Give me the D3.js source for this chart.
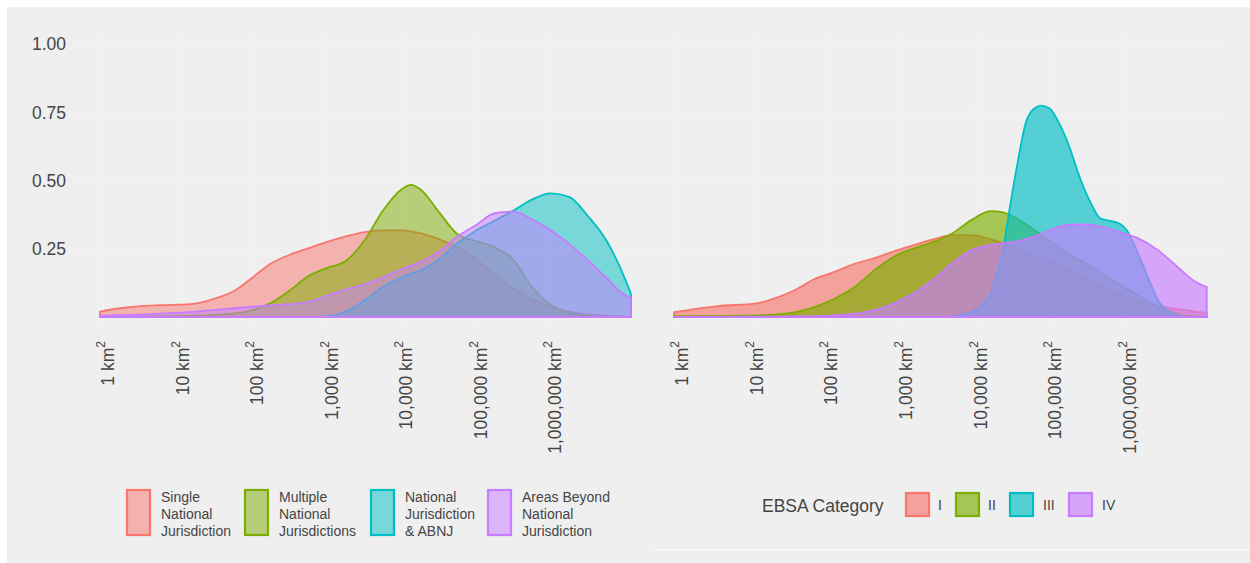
<!DOCTYPE html>
<html>
<head>
<meta charset="utf-8">
<script src="https://cdn.jsdelivr.net/npm/d3@7"></script>
<style>
  html, body { margin: 0; padding: 0; background: #ffffff; }
  svg { display: block; font-family: "Liberation Sans", Arial, sans-serif; }
</style>
</head>
<body>
<svg id="chart" width="1250" height="563"></svg>
<script>
// ---------------- DATA ----------------
// x values are log10(area in km^2)
const tickLogs = [0, 1, 2, 3, 4, 5, 6];
const tickLabels = ["1", "10", "100", "1,000", "10,000", "100,000", "1,000,000"];
const yTicks = [0.25, 0.5, 0.75, 1.0];
const yTickLabels = ["0.25", "0.50", "0.75", "1.00"];

// Left panel: jurisdiction groups, on a shared grid
const leftLogArea = [-0.05, 0.25, 0.5, 0.75, 1, 1.25, 1.5, 1.75, 2, 2.25, 2.5, 2.75, 3, 3.25, 3.5, 3.75, 4, 4.125, 4.25, 4.5, 4.75, 5, 5.25, 5.5, 5.75, 6, 6.25, 6.5, 6.75, 7, 7.08];
const singleNational   = [0.02, 0.033, 0.04, 0.043, 0.045, 0.05, 0.068, 0.095, 0.145, 0.197, 0.228, 0.252, 0.275, 0.295, 0.311, 0.317, 0.317, 0.314, 0.307, 0.285, 0.255, 0.212, 0.155, 0.105, 0.065, 0.037, 0.02, 0.01, 0.005, 0.001, 0];
const multipleNational = [0, 0, 0.001, 0.002, 0.003, 0.005, 0.008, 0.013, 0.025, 0.052, 0.098, 0.15, 0.18, 0.205, 0.28, 0.39, 0.468, 0.484, 0.468, 0.385, 0.303, 0.278, 0.255, 0.21, 0.11, 0.045, 0.015, 0.004, 0, 0, 0];
const nationalABNJ     = [0, 0, 0, 0, 0, 0, 0, 0, 0, 0, 0, 0, 0.002, 0.02, 0.06, 0.11, 0.145, 0.158, 0.17, 0.21, 0.27, 0.317, 0.353, 0.39, 0.43, 0.453, 0.44, 0.37, 0.28, 0.14, 0.085];
const beyondNational   = [0.005, 0.007, 0.009, 0.012, 0.016, 0.02, 0.026, 0.032, 0.038, 0.043, 0.047, 0.055, 0.078, 0.1, 0.12, 0.145, 0.175, 0.188, 0.2, 0.24, 0.295, 0.337, 0.38, 0.386, 0.358, 0.318, 0.268, 0.208, 0.144, 0.08, 0.073];

// Right panel: EBSA categories
const catILogArea = [-0.05, 0.54, 1.06, 1.32, 1.58, 1.84, 2.1, 2.37, 2.63, 2.89, 3.15, 3.41, 3.67, 3.93, 4.19, 4.45, 4.72, 5.24, 5.76, 6.28, 6.8, 7.09];
const catIDensity = [0.018, 0.04, 0.05, 0.07, 0.1, 0.14, 0.165, 0.195, 0.215, 0.24, 0.262, 0.283, 0.3, 0.3, 0.285, 0.26, 0.23, 0.17, 0.1, 0.05, 0.025, 0.015];
const catIILogArea = [-0.05, 1.06, 1.58, 1.84, 2.1, 2.37, 2.63, 2.89, 3.15, 3.41, 3.67, 3.93, 4.19, 4.35, 4.51, 4.72, 4.98, 5.24, 5.5, 5.76, 6.02, 6.28, 6.54, 6.8, 7.09];
const catIIDensity = [0.003, 0.006, 0.018, 0.037, 0.067, 0.11, 0.17, 0.22, 0.25, 0.274, 0.305, 0.354, 0.388, 0.384, 0.366, 0.33, 0.28, 0.232, 0.19, 0.146, 0.104, 0.06, 0.024, 0.006, 0];
const catIIILogArea = [-0.05, 3.57, 3.93, 4.19, 4.3, 4.38, 4.45, 4.56, 4.66, 4.77, 4.87, 4.98, 5.13, 5.24, 5.39, 5.55, 5.66, 5.76, 5.89, 6.02, 6.13, 6.28, 6.44, 6.6, 6.8, 7.09];
const catIIIDensity = [0, 0, 0.018, 0.085, 0.183, 0.28, 0.40, 0.573, 0.707, 0.762, 0.774, 0.765, 0.70, 0.63, 0.51, 0.41, 0.362, 0.354, 0.346, 0.317, 0.256, 0.16, 0.06, 0.018, 0, 0];
const catIVLogArea = [-0.05, 1.58, 2.1, 2.63, 2.89, 3.15, 3.41, 3.67, 3.93, 4.09, 4.3, 4.56, 4.82, 5.03, 5.24, 5.45, 5.66, 5.92, 6.18, 6.44, 6.7, 6.91, 7.09];
const catIVDensity = [0, 0.002, 0.006, 0.024, 0.049, 0.085, 0.134, 0.195, 0.244, 0.259, 0.268, 0.278, 0.299, 0.323, 0.338, 0.339, 0.332, 0.311, 0.287, 0.244, 0.183, 0.134, 0.11];

const leftNames = ["Single National Jurisdiction", "Multiple National Jurisdictions", "National Jurisdiction & ABNJ", "Areas Beyond National Jurisdiction"];
const leftLegendLines = [["Single", "National", "Jurisdiction"], ["Multiple", "National", "Jurisdictions"], ["National", "Jurisdiction", "& ABNJ"], ["Areas Beyond", "National", "Jurisdiction"]];
const rightNames = ["I", "II", "III", "IV"];
const palette = ["#F8766D", "#7CAE00", "#00BFC4", "#C77CFF"];

// ---------------- DRAW ----------------
const svg = d3.select("#chart");
const textColor = "#454545";

svg.append("rect").attr("x", 7).attr("y", 7).attr("width", 1243).attr("height", 556).attr("fill", "#efefef");
svg.append("line").attr("x1", 653).attr("x2", 1250).attr("y1", 549.5).attr("y2", 549.5).attr("stroke", "#ffffff").attr("stroke-width", 1.2);

const y = d3.scaleLinear().domain([0, 1]).range([317, 44]);

function panel(x0, x1, series, alpha, showY) {
  const x = d3.scaleLinear().domain([-0.05, 7.08]).range([x0, x1]);
  const g = svg.append("g");
  // very faint grid
  g.selectAll(".hg").data(yTicks).enter().append("line")
    .attr("x1", x0 - 25).attr("x2", x1 + 17)
    .attr("y1", d => y(d)).attr("y2", d => y(d))
    .attr("stroke", "#f2f2f2").attr("stroke-width", 1);
  g.selectAll(".vg").data(tickLogs).enter().append("line")
    .attr("x1", d => x(d)).attr("x2", d => x(d))
    .attr("y1", 30).attr("y2", 330)
    .attr("stroke", "#f2f2f2").attr("stroke-width", 1);

  const area = d3.area()
    .x(d => x(d[0])).y0(y(0)).y1(d => y(d[1]))
    .curve(d3.curveMonotoneX);
  series.forEach((s, i) => {
    const pts = s.xs.map((v, j) => [v, s.ys[j]]);
    g.append("path").attr("d", area(pts))
      .attr("fill", palette[i]).attr("fill-opacity", alpha)
      .attr("stroke", palette[i]).attr("stroke-width", 1.8)
      .attr("stroke-linejoin", "round");
  });

  // x tick labels (rotated)
  tickLogs.forEach((t, i) => {
    const tx = x(t) + 4.5;
    const txt = g.append("text")
      .attr("transform", `translate(${tx},341) rotate(-90)`)
      .attr("text-anchor", "end")
      .attr("dominant-baseline", "central")
      .attr("fill", textColor)
      .attr("font-size", 17.5);
    txt.append("tspan").text(tickLabels[i] + " km");
    txt.append("tspan").text("2").attr("font-size", 12).attr("dy", -7);
  });

  if (showY) {
    g.selectAll(".yl").data(yTicks).enter().append("text")
      .attr("x", 66).attr("y", d => y(d))
      .attr("dy", "0.36em")
      .attr("text-anchor", "end")
      .attr("fill", textColor)
      .attr("font-size", 17.5)
      .text((d, i) => yTickLabels[i]);
  }
}

panel(100, 631, [
  { xs: leftLogArea, ys: singleNational },
  { xs: leftLogArea, ys: multipleNational },
  { xs: leftLogArea, ys: nationalABNJ },
  { xs: leftLogArea, ys: beyondNational }
], 0.5, true);

panel(674, 1206, [
  { xs: catILogArea, ys: catIDensity },
  { xs: catIILogArea, ys: catIIDensity },
  { xs: catIIILogArea, ys: catIIIDensity },
  { xs: catIVLogArea, ys: catIVDensity }
], 0.65, false);

// Left legend
const legX = [126, 244, 370, 487];
leftNames.forEach((n, i) => {
  const lg = svg.append("g");
  lg.append("rect").attr("x", legX[i] + 1).attr("y", 490).attr("width", 23).attr("height", 45)
    .attr("fill", palette[i]).attr("fill-opacity", 0.5)
    .attr("stroke", palette[i]).attr("stroke-width", 2.2);
  leftLegendLines[i].forEach((line, k) => {
    lg.append("text").attr("x", legX[i] + 35).attr("y", 502 + k * 17)
      .attr("fill", textColor).attr("font-size", 14).text(line);
  });
});

// Right legend
svg.append("text").attr("x", 762).attr("y", 511.5).attr("fill", textColor)
  .attr("font-size", 17.5).text("EBSA Category");
const rKeyX = [905, 955, 1009, 1068];
const rLabX = [938, 988, 1043, 1102];
rightNames.forEach((n, i) => {
  svg.append("rect").attr("x", rKeyX[i] + 1).attr("y", 493).attr("width", 23).attr("height", 23)
    .attr("fill", palette[i]).attr("fill-opacity", 0.65)
    .attr("stroke", palette[i]).attr("stroke-width", 2.2);
  svg.append("text").attr("x", rLabX[i]).attr("y", 510).attr("fill", textColor)
    .attr("font-size", 14).text(n);
});
</script>
</body>
</html>
